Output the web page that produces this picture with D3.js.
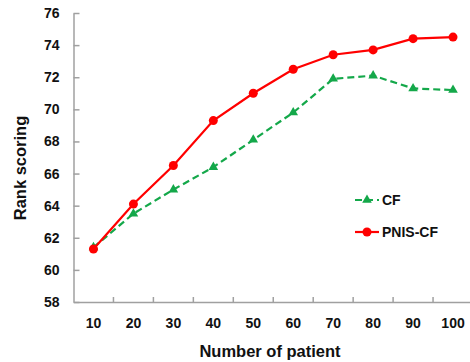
<!DOCTYPE html>
<html>
<head>
<meta charset="utf-8">
<script src="https://cdn.jsdelivr.net/npm/d3@7"></script>
<style>
  body { margin: 0; background: #fff; }
  svg text { font-family: "Liberation Sans", Arial, sans-serif; font-weight: bold; fill: #111; }
</style>
</head>
<body>
<div id="container"></div>
<script>
/* CONSTANTS AND GLOBALS */
const width = 470,
  height = 362,
  margin = { top: 13, bottom: 60, left: 73.5, right: -3 }

/* DATA */
const patients = [10, 20, 30, 40, 50, 60, 70, 80, 90, 100];
const cf = [61.4, 63.5, 65.0, 66.4, 68.1, 69.8, 71.9, 72.1, 71.3, 71.2];
const pnisCf = [61.3, 64.1, 66.5, 69.3, 71.0, 72.5, 73.4, 73.7, 74.4, 74.5];
const yTicks = [58, 60, 62, 64, 66, 68, 70, 72, 74, 76];

const green = "#14a84a", red = "#ff0000", axisColor = "#a0a0a0";

// SCALES
const xScale = d3.scaleBand()
  .domain(patients)
  .range([margin.left, width - margin.right])

const yScale = d3.scaleLinear()
  .domain([58, 76])
  .range([height - margin.bottom, margin.top])

// CREATE SVG ELEMENT
const svg = d3.select("#container")
  .append("svg")
  .attr("width", width)
  .attr("height", height)

// AXES
const xAxisGroup = svg.append("g")
  .attr("transform", `translate(0, ${height - margin.bottom})`)
  .call(d3.axisBottom(xScale).tickSize(0).tickPadding(16));
xAxisGroup.select(".domain").attr("stroke", axisColor).attr("stroke-width", 1.5);
xAxisGroup.selectAll("text").attr("font-size", 14);

// x tick marks sit between categories
xAxisGroup.selectAll("line.sep")
  .data(patients)
  .join("line")
  .attr("class", "sep")
  .attr("x1", d => xScale(d) + xScale.bandwidth())
  .attr("x2", d => xScale(d) + xScale.bandwidth())
  .attr("y1", 0)
  .attr("y2", -5)
  .attr("stroke", axisColor)
  .attr("stroke-width", 1.5);

const yAxisGroup = svg.append("g")
  .attr("transform", `translate(${margin.left}, 0)`)
  .call(d3.axisLeft(yScale).tickValues(yTicks).tickSize(-6).tickPadding(14).tickSizeOuter(0));
yAxisGroup.select(".domain").attr("stroke", axisColor).attr("stroke-width", 1.5);
yAxisGroup.selectAll(".tick line").attr("stroke", axisColor).attr("stroke-width", 1.5);
yAxisGroup.selectAll("text").attr("font-size", 14);

// AXIS TITLES
svg.append("text")
  .attr("x", 270)
  .attr("y", 357)
  .attr("text-anchor", "middle")
  .attr("font-size", 16.5)
  .text("Number of patient");

svg.append("text")
  .attr("transform", "translate(26, 168) rotate(-90)")
  .attr("text-anchor", "middle")
  .attr("font-size", 16.5)
  .text("Rank scoring");

// LINES
const cx = (d, i) => xScale(patients[i]) + xScale.bandwidth() / 2;
const line = d3.line()
  .x(cx)
  .y(d => yScale(d));

svg.append("path")
  .datum(cf)
  .attr("fill", "none")
  .attr("stroke", green)
  .attr("stroke-width", 2.2)
  .attr("stroke-dasharray", "7,4")
  .attr("d", line);

svg.append("path")
  .datum(pnisCf)
  .attr("fill", "none")
  .attr("stroke", red)
  .attr("stroke-width", 2.2)
  .attr("d", line);

const tri = d3.symbol().type(d3.symbolTriangle).size(40);

svg.append("g")
  .selectAll("path")
  .data(cf)
  .join("path")
  .attr("transform", (d, i) => `translate(${cx(d, i)}, ${yScale(d)})`)
  .attr("d", tri)
  .attr("fill", green);

svg.append("g")
  .selectAll("circle")
  .data(pnisCf)
  .join("circle")
  .attr("cx", cx)
  .attr("cy", d => yScale(d))
  .attr("r", 4.5)
  .attr("fill", red);

// LEGEND
const legend = [
  { name: "CF", color: green, dash: "7,4", marker: "tri", y: 200 },
  { name: "PNIS-CF", color: red, dash: null, marker: "circle", y: 232 }
];

const lg = svg.append("g").selectAll("g").data(legend).join("g")
  .attr("transform", d => `translate(355, ${d.y})`);

lg.append("line")
  .attr("x1", 0).attr("x2", 24)
  .attr("stroke", d => d.color)
  .attr("stroke-width", 2.2)
  .attr("stroke-dasharray", d => d.dash);

lg.filter(d => d.marker === "tri").append("path")
  .attr("transform", "translate(12, 0)")
  .attr("d", tri)
  .attr("fill", d => d.color);

lg.filter(d => d.marker === "circle").append("circle")
  .attr("cx", 12)
  .attr("r", 4.5)
  .attr("fill", d => d.color);

lg.append("text")
  .attr("x", 27)
  .attr("dy", "0.35em")
  .attr("font-size", 14)
  .text(d => d.name);
</script>
</body>
</html>
